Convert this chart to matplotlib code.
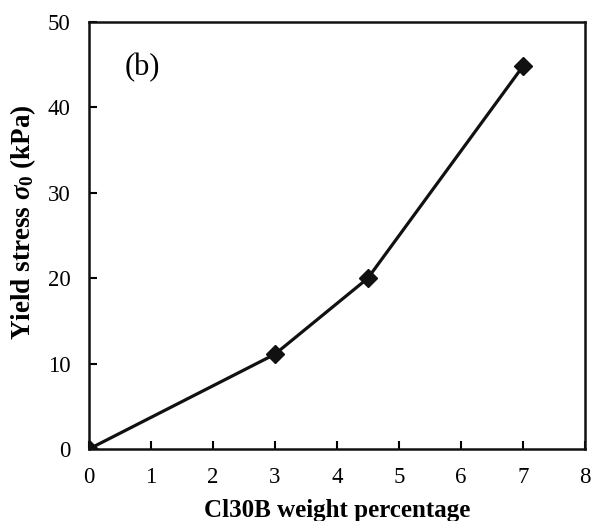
import matplotlib
matplotlib.use("Agg")
import matplotlib.pyplot as plt

# Dados
cl30b = [0, 3, 4.5, 7]
tensao = [0, 11.1, 20.0, 44.8]

plt.rcParams["font.family"] = "Liberation Serif"
plt.rcParams["mathtext.fontset"] = "custom"
plt.rcParams["mathtext.rm"] = "Liberation Serif:bold"
plt.rcParams["mathtext.it"] = "Liberation Serif:italic:bold"
plt.rcParams["mathtext.bf"] = "Liberation Serif:bold"

fig = plt.figure(figsize=(5.92, 5.21), dpi=100)
ax = fig.add_axes([0.150, 0.138, 0.838, 0.820])

ax.plot(cl30b, tensao, color="#111111", linewidth=2.3, marker="D", markersize=9)

ax.set_xlim(0, 8)
ax.set_ylim(0, 50)
ax.set_xticks(range(0, 9))
ax.set_yticks(range(0, 51, 10))
ax.tick_params(direction="in", length=6, width=1.5, labelsize=16.5, pad=13,
               top=False, right=False)
for s in ax.spines.values():
    s.set_linewidth(1.8)
    s.set_color("#111111")

ax.set_xlabel("Cl30B weight percentage", fontsize=18, fontweight="bold", labelpad=8)
ax.set_ylabel(r"Yield stress $\sigma_0$ (kPa)", fontsize=19.5, fontweight="bold")
ax.yaxis.set_label_coords(-0.103, 0.532)

ax.text(0.87, 44.6, "(b)", fontsize=22, ha="center", va="center")

fig.savefig("out.png", dpi=100)
